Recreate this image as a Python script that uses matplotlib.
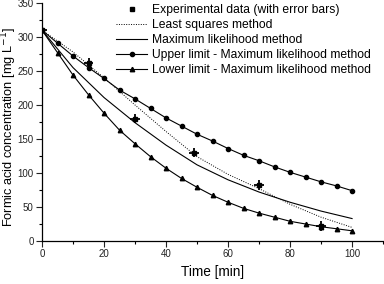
import matplotlib
matplotlib.use("Agg")
import matplotlib.pyplot as plt
from matplotlib.ticker import MultipleLocator
from matplotlib.lines import Line2D

plt.rcParams['font.family'] = ['Liberation Sans', 'DejaVu Sans']

# Experimental data
exp_t = [0, 15, 30, 49, 70, 90]
exp_c = [310, 262, 180, 130, 82, 22]
exp_xerr = [1.5, 1.5, 1.5, 1.5, 1.5, 1.5]
exp_yerr = [6, 7, 7, 7, 7, 7]

# Fitted curves
fit_t = [0, 10, 20, 30, 40, 50, 60, 70, 80, 90, 100]
ls_c = [310, 278, 240, 200, 161, 124, 98, 77, 54, 35, 20]
ml_c = [310, 255, 211, 174, 141, 112, 90, 72, 57, 44, 33]

# Confidence limits
lim_t = [0, 5, 10, 15, 20, 25, 30, 35, 40, 45, 50, 55, 60, 65, 70, 75, 80, 85, 90, 95, 100]
upper_c = [310, 291, 272, 255, 239, 222, 209, 195, 181, 169, 157, 147, 136, 126, 118, 109, 101, 94, 87, 81, 74]
lower_c = [310, 277, 244, 215, 188, 163, 143, 124, 107, 92, 79, 67, 57, 48, 41, 35, 29, 25, 21, 18, 15]

labels = ['Experimental data (with error bars)', 'Least squares method',
          'Maximum likelihood method', 'Upper limit - Maximum likelihood method',
          'Lower limit - Maximum likelihood method']

fig = plt.figure(figsize=(3.84, 2.84), dpi=100)
ax = fig.add_axes([42/384, 1-241/284, 1-42/384, (241-3)/284])

lw = 0.8
ax.errorbar(exp_t, exp_c, xerr=exp_xerr, yerr=exp_yerr, fmt='s', color='black',
            ms=3.5, elinewidth=1.3, capsize=0, linestyle='none', zorder=5)
h_ls, = ax.plot(fit_t, ls_c, linestyle=(0, (1, 1.5)), color='black', lw=0.7)
h_ml, = ax.plot(fit_t, ml_c, '-', color='black', lw=lw)
h_up, = ax.plot(lim_t, upper_c, '-', marker='o', ms=3, color='black', lw=lw)
h_lo, = ax.plot(lim_t, lower_c, '-', marker='^', ms=3.2, color='black', lw=lw)
h_exp = Line2D([], [], marker='s', ms=3.5, color='black', linestyle='none')

ax.set_xlim(0, 110.3)
ax.set_ylim(0, 350)
ax.xaxis.set_major_locator(MultipleLocator(20))
ax.xaxis.set_minor_locator(MultipleLocator(10))
ax.yaxis.set_major_locator(MultipleLocator(50))
ax.yaxis.set_minor_locator(MultipleLocator(25))
ax.tick_params(which='major', direction='out', length=4, width=0.8, labelsize=7, pad=2, colors='#222222')
ax.tick_params(which='minor', direction='out', length=2.5, width=0.8)
for s in ['top', 'right']:
    ax.spines[s].set_visible(False)
for s in ['left', 'bottom']:
    ax.spines[s].set_linewidth(0.9)

ax.set_xlabel('Time [min]', fontsize=9.8, labelpad=4)
ax.set_ylabel('Formic acid concentration [mg L$^{-1}$]', fontsize=9.2)
ax.yaxis.set_label_coords((19-42)/342, 0.48)

leg = ax.legend([h_exp, h_ls, h_ml, h_up, h_lo], labels,
                loc='upper left', bbox_to_anchor=(114/384, 1-2/284), bbox_transform=fig.transFigure,
                frameon=False, fontsize=8.7, handlelength=2.5, handletextpad=0.45,
                labelspacing=0.24, borderaxespad=0, borderpad=0.2)

fig.savefig('out.png', dpi=100)
